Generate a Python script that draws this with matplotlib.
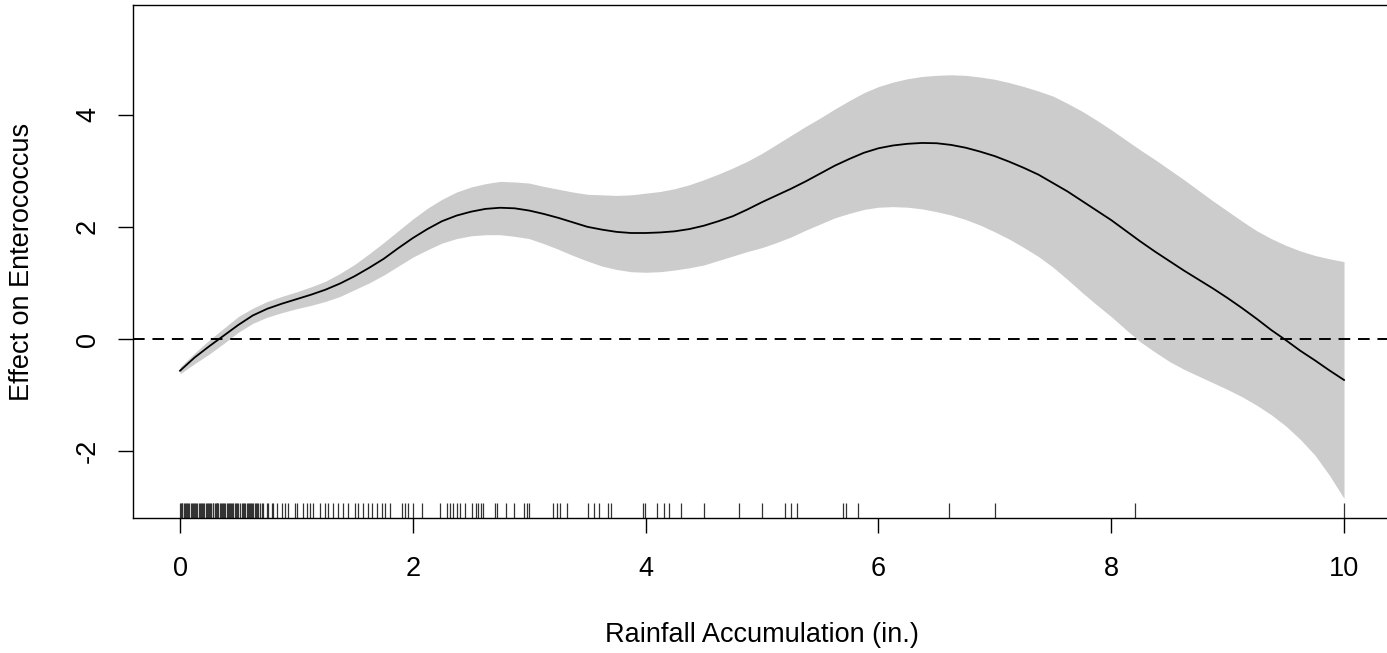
import matplotlib
matplotlib.use("Agg")
import matplotlib.pyplot as plt

plt.rcParams['font.family'] = ['Liberation Sans', 'DejaVu Sans']
plt.rcParams['axes.unicode_minus'] = False

# smooth term (every 0.125 in.)
rain = [i * 0.125 for i in range(81)]
fit = [-0.565, -0.33, -0.13, 0.06, 0.25, 0.42, 0.54, 0.63, 0.71, 0.79,
       0.88, 0.99, 1.12, 1.27, 1.43, 1.62, 1.80, 1.96, 2.10, 2.20,
       2.27, 2.32, 2.34, 2.33, 2.29, 2.23, 2.16, 2.08, 2.00, 1.95,
       1.91, 1.89, 1.89, 1.90, 1.92, 1.96, 2.02, 2.10, 2.19, 2.31,
       2.44, 2.56, 2.68, 2.81, 2.95, 3.09, 3.21, 3.32, 3.40, 3.45,
       3.48, 3.495, 3.49, 3.46, 3.41, 3.34, 3.26, 3.16, 3.05, 2.93,
       2.78, 2.63, 2.46, 2.29, 2.12, 1.93, 1.74, 1.56, 1.39, 1.22,
       1.06, 0.90, 0.73, 0.55, 0.36, 0.16, -0.02, -0.21, -0.38, -0.56,
       -0.73]
upper = [-0.50, -0.25, -0.02, 0.19, 0.40, 0.55, 0.67, 0.76, 0.84, 0.93,
         1.03, 1.17, 1.33, 1.52, 1.72, 1.93, 2.14, 2.33, 2.49, 2.62,
         2.71, 2.77, 2.81, 2.80, 2.78, 2.72, 2.67, 2.62, 2.58, 2.57,
         2.56, 2.57, 2.60, 2.63, 2.68, 2.75, 2.84, 2.94, 3.05, 3.17,
         3.31, 3.47, 3.63, 3.79, 3.94, 4.10, 4.25, 4.39, 4.50, 4.58,
         4.64, 4.68, 4.70, 4.71, 4.70, 4.67, 4.63, 4.57, 4.50, 4.42,
         4.33, 4.20, 4.06, 3.90, 3.73, 3.55, 3.37, 3.20, 3.02, 2.84,
         2.65, 2.46, 2.28, 2.10, 1.93, 1.79, 1.67, 1.57, 1.49, 1.43,
         1.38]
lower = [-0.62, -0.44, -0.27, -0.08, 0.12, 0.28, 0.39, 0.47, 0.54, 0.60,
         0.67, 0.76, 0.88, 1.00, 1.14, 1.30, 1.46, 1.59, 1.71, 1.79,
         1.84, 1.86, 1.86, 1.83, 1.79, 1.70, 1.60, 1.49, 1.39, 1.30,
         1.24, 1.20, 1.19, 1.20, 1.23, 1.27, 1.32, 1.40, 1.48, 1.56,
         1.63, 1.72, 1.82, 1.94, 2.05, 2.16, 2.24, 2.31, 2.35, 2.36,
         2.35, 2.32, 2.27, 2.21, 2.13, 2.03, 1.91, 1.78, 1.63, 1.47,
         1.28, 1.06, 0.83, 0.61, 0.40, 0.17, -0.05, -0.23, -0.40, -0.54,
         -0.66, -0.78, -0.90, -1.03, -1.18, -1.35, -1.55, -1.79, -2.07, -2.43,
         -2.84]

# observed rainfall values (rug)
rug = [0.0, 0.01, 0.015, 0.02, 0.03, 0.04, 0.05, 0.06, 0.07, 0.08, 0.09, 0.10,
       0.11, 0.12, 0.13, 0.14, 0.15, 0.16, 0.17, 0.18, 0.19, 0.20, 0.21,
       0.22, 0.23, 0.243, 0.25, 0.26, 0.27, 0.28, 0.286, 0.30, 0.31, 0.315,
       0.32, 0.33, 0.344, 0.35, 0.36, 0.372, 0.38, 0.39, 0.401, 0.41, 0.42,
       0.43, 0.44, 0.45, 0.458, 0.47, 0.48, 0.487, 0.50, 0.515, 0.53, 0.544,
       0.55, 0.56, 0.573, 0.58, 0.59, 0.601, 0.61, 0.62, 0.63, 0.64, 0.65,
       0.659, 0.67, 0.687, 0.70, 0.716, 0.745, 0.759, 0.788,
       0.802, 0.83, 0.873, 0.902, 0.931, 0.988, 1.008, 1.06, 1.088, 1.117,
       1.145, 1.203, 1.246, 1.274, 1.317, 1.36, 1.403, 1.446, 1.503, 1.532,
       1.575, 1.618, 1.647, 1.69, 1.733, 1.761, 1.804, 1.905, 1.933, 1.962,
       2.005, 2.076, 2.234, 2.291, 2.32, 2.348, 2.377, 2.405, 2.448, 2.506,
       2.543, 2.563, 2.583, 2.606, 2.706, 2.726, 2.801, 2.869, 2.955, 2.978,
       3.001, 3.202, 3.236, 3.265, 3.322, 3.502, 3.56, 3.603, 3.68, 3.70,
       3.975, 3.995, 4.101, 4.158, 4.201, 4.301, 4.504, 4.802, 5.003, 5.198,
       5.249, 5.304, 5.693, 5.722, 5.822, 6.604, 7.002, 8.204, 10.0]

xticks = [0, 2, 4, 6, 8, 10]
yticks = [-2, 0, 2, 4]

fig = plt.figure(figsize=(13.87, 6.53), dpi=100)
ax = fig.add_axes([133 / 1387, 1 - 518 / 653, 0.9067, 513 / 653])

ax.fill_between(rain, lower, upper, color='#cccccc', linewidth=0)
ax.plot(rain, fit, color='black', linewidth=1.3)
ax.axhline(0, color='black', linewidth=1.4, linestyle=(0, (6, 4)))
ax.vlines(rug, 0, 0.03, transform=ax.get_xaxis_transform(),
          color='#333333', linewidth=0.9)

ax.set_xlim(-0.404, 10.4)
ax.set_ylim(-3.19, 5.954)
ax.set_xticks(xticks)
ax.set_yticks(yticks)
ax.tick_params(labelsize=19.5, length=11, width=1.0)
ax.tick_params(axis='x', pad=16)
ax.tick_params(axis='y', pad=12)
for lab in ax.get_yticklabels():
    lab.set_rotation(90)
    lab.set_va('center')
for sp in ax.spines.values():
    sp.set_linewidth(1.0)

ax.set_xlabel('Rainfall Accumulation (in.)', fontsize=19.5, va='center')
ax.xaxis.set_label_coords(0.5, (518 - 635) / 513)
ax.set_ylabel('Effect on Enterococcus', fontsize=19.5, va='center')
ax.yaxis.set_label_coords((22 - 133) / 1257.6, 0.5)

fig.savefig('out.png', dpi=100)
